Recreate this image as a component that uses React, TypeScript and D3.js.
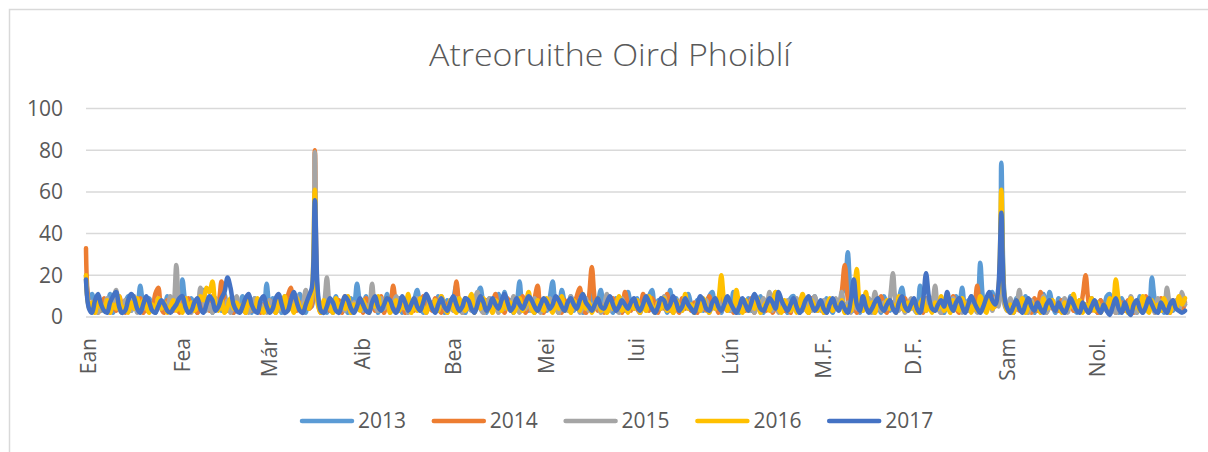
import React from "react";
import * as d3 from "d3";

const title = "Atreoruithe Oird Phoiblí";
const seriesNames = ["2013", "2014", "2015", "2016", "2017"];
const seriesColors = ["#5B9BD5", "#ED7D31", "#A5A5A5", "#FFC000", "#4472C4"];
const monthLabels = ["Ean", "Fea", "Már", "Aib", "Bea", "Mei", "Iui", "Lún", "M.F.", "D.F.", "Sam", "Nol."];
const monthStartDays = [0, 31, 60, 91, 121, 152, 182, 213, 244, 274, 305, 335];
const yTicks = [0, 20, 40, 60, 80, 100];

const s2013 = [
  20,9,11,4,10,3,8,5,11,2, 6,9,4,7,10,3,8,5,15,6, 3,9,5,2,8,6,3,10,4,7, 5,
  4,18,7,3,9,5,2,8,13,4, 6,2,9,5,3,11,4,7,2,8, 5,10,3,6,2,9,4,7,3,
  16,5,9,3,7,2,10,4,8,3, 6,11,4,2,8,5,45,9,3,6, 2,8,4,10,3,7,5,2,9,6, 16,
  7,4,10,3,6,9,2,8,5,11, 3,7,4,9,2,6,10,3,8,13, 5,2,9,4,7,3,10,6,2,8,
  5,9,15,4,7,2,8,5,3,10, 14,6,2,9,4,7,11,3,12,5, 8,2,6,17,4,9,3,7,2,10, 5,
  6,3,9,17,5,2,13,7,4,10, 3,8,5,2,9,6,11,4,7,13, 3,8,5,2,9,4,7,3,12,6,
  4,9,2,7,5,10,13,3,8,4, 6,2,13,5,9,3,7,4,11,6, 2,8,5,3,7,10,12,4,6,2, 9,
  5,3,12,6,2,8,4,9,3,7, 5,10,2,6,4,8,12,3,7,5, 2,9,10,4,6,3,8,2,7,10, 4,
  6,3,9,5,2,8,4,11,14,31, 10,3,7,2,9,5,3,8,4,6, 2,10,5,3,7,4,9,14,6,3,
  8,4,2,15,6,3,9,5,11,4, 7,2,8,5,3,10,6,14,4,8, 3,9,5,26,8,4,10,12,6,9, 74,
  12,4,7,2,9,5,3,10,4,6, 2,8,5,11,3,12,6,2,9,4, 7,3,10,5,2,8,4,6,3,9,
  5,2,8,4,10,11,3,7,2,9, 5,3,8,6,2,10,4,7,3,19, 8,4,6,2,9,5,3,7,4,10, 6,
];

const s2014 = [
  33,6,3,8,2,5,9,4,2,7, 3,10,5,2,8,4,6,3,9,2, 5,7,3,11,14,4,2,8,5,3, 6,
  2,7,4,9,3,5,2,8,4,6, 3,10,5,7,17,9,3,6,2,8, 4,5,2,9,3,7,4,2,6,
  3,8,5,2,9,4,6,10,14,5, 3,7,2,12,4,6,80,8,2,5, 9,3,6,4,8,2,10,5,3,7, 4,
  6,2,9,4,7,3,5,10,2,8, 4,15,6,3,9,2,5,7,3,8, 4,10,2,6,3,9,5,2,7,4,
  8,3,17,6,2,9,4,7,3,10, 5,2,8,4,6,11,3,7,2,9, 5,3,8,4,10,2,6,3,9,15, 4,
  2,7,5,3,9,4,2,8,5,3, 6,10,14,4,2,9,24,8,3,6, 2,7,4,9,3,5,2,12,6,3,
  8,4,2,11,5,3,9,6,2,7, 4,11,3,8,5,2,9,4,6,3, 7,2,8,5,3,10,4,6,2,9, 5,
  3,7,2,6,4,8,3,5,9,2, 6,4,8,3,7,2,5,9,4,3, 6,2,8,5,3,7,4,2,9,5, 3,
  7,2,5,8,3,6,4,12,25,9, 3,6,2,8,4,5,3,7,2,6, 10,4,2,8,5,3,7,4,9,3,
  5,8,3,6,2,9,4,7,3,5, 2,8,6,3,10,4,2,7,5,3, 9,6,15,4,8,3,6,10,5,12, 35,
  9,4,2,7,5,3,8,4,6,2, 9,3,12,5,2,7,4,6,3,8, 2,5,9,3,6,4,10,20,7,3,
  5,2,8,4,6,3,9,2,5,7, 3,8,4,2,6,5,3,10,4,7, 2,6,9,3,5,2,8,4,6,3, 7,
];

const s2015 = [
  18,5,3,8,2,6,4,9,3,7, 13,4,2,8,5,3,10,2,6,4, 8,3,5,2,9,4,7,3,10,6, 25,
  6,3,9,4,2,7,5,14,8,3, 6,2,9,4,5,3,8,2,6,10, 4,3,7,2,5,9,3,6,4,
  2,8,4,6,3,9,2,5,7,3, 10,4,6,13,5,8,79,10,3,6, 19,5,2,8,4,6,3,9,2,7, 4,
  8,3,6,2,16,5,3,9,4,7, 2,6,10,3,5,8,2,6,4,9, 3,5,2,7,4,8,3,10,5,2,
  6,3,9,4,2,8,5,3,7,12, 4,2,6,9,3,5,2,8,4,7, 3,10,5,2,6,4,8,3,9,5, 2,
  7,4,9,3,5,2,8,6,3,10, 4,7,2,5,9,3,6,4,8,2, 5,11,3,7,4,2,9,5,3,6,
  4,8,2,6,3,9,5,2,7,4, 10,3,6,2,8,5,3,9,4,6, 2,7,3,5,8,2,6,4,9,3, 5,
  7,3,6,2,9,4,5,3,8,2, 6,4,9,5,12,3,7,2,6,4, 8,3,5,9,2,6,4,7,3,10, 5,
  3,8,2,6,4,9,5,12,3,7, 2,6,4,8,3,5,9,2,12,6, 3,7,4,9,21,6,3,8,2,5,
  9,4,2,7,5,3,10,6,15,4, 2,8,5,3,9,4,6,2,7,3, 10,5,2,8,4,6,11,3,9,5, 30,
  6,3,9,2,5,13,4,7,2,8, 3,6,4,10,2,5,8,3,6,4, 9,2,7,5,3,8,4,6,2,9,
  4,7,2,6,3,9,5,2,8,4, 6,3,10,5,2,7,4,8,3,6, 2,9,5,3,14,6,4,8,3,12, 6,
];

const s2016 = [
  20,4,7,2,9,5,3,8,2,6, 4,10,3,5,2,7,4,9,3,8, 5,2,6,3,9,4,7,2,5,8, 3,
  6,2,9,4,7,3,5,10,8,14,12, 17,6,3,8,2,5,9,4,7, 3,6,2,8,5,3,9,4,2,
  7,3,5,2,8,4,10,3,6,2, 9,5,3,7,4,11,61,6,2,8, 4,5,2,9,3,7,4,10,2,6, 5,
  3,8,4,2,7,5,10,3,6,9, 2,5,8,3,6,4,11,2,7,3, 9,5,2,6,4,8,3,10,5,2,
  8,4,2,9,5,3,7,11,2,6, 4,9,3,5,2,8,6,3,10,4, 7,2,5,9,3,6,12,4,2,8, 5,
  3,9,5,2,7,4,10,3,6,2, 8,5,3,11,4,7,2,6,9,3, 5,2,8,4,6,10,3,5,2,7,
  4,8,2,6,3,10,5,2,7,4, 9,3,6,2,8,5,3,11,4,6, 2,7,3,9,5,2,6,4,8,20, 7,
  3,6,4,13,5,2,8,3,6,4, 9,2,5,7,3,6,12,4,2,8, 5,3,7,2,6,11,4,2,8,5, 3,
  7,2,5,9,3,6,4,8,2,5, 3,10,23,6,3,12,4,7,2,9, 5,3,8,4,6,2,10,5,3,7,
  4,8,2,6,9,3,5,2,7,4, 10,3,6,2,8,5,3,9,4,7, 2,6,3,10,5,2,8,4,6,12, 61,
  10,3,6,2,8,4,9,2,5,7, 3,6,2,9,4,5,8,3,6,2, 7,4,5,11,3,8,2,6,4,9,
  3,7,2,6,4,9,5,18,8,3, 6,2,9,4,7,3,10,5,2,8, 4,6,3,9,5,2,7,4,10,6, 9,
];

const s2017 = [
  18,4,2,8,11,6,3,2,7,10, 12,5,2,3,8,11,9,4,2,6, 10,7,3,2,5,8,6,3,2,4, 6,
  9,10,5,2,3,7,9,4,2,6, 10,8,3,5,9,12,19,14,6,3, 2,5,9,11,6,3,2,8,10,
  5,2,4,9,11,6,2,3,8,12, 7,3,2,6,10,14,56,12,3,2, 5,9,7,3,2,6,10,8,4,2, 5,
  9,6,3,2,7,10,5,3,6,9, 8,4,2,5,10,7,3,6,9,5, 3,7,11,8,4,2,6,9,5,3,
  7,10,6,3,5,9,8,4,2,6, 10,7,3,5,9,6,4,8,11,7, 3,5,9,6,4,7,10,8,5,3, 6,
  9,7,4,6,10,8,5,3,7,9, 6,4,8,11,7,5,3,6,9,5, 4,7,10,6,3,5,8,6,4,7,
  9,5,3,6,10,7,4,2,5,9, 8,4,6,10,7,3,5,9,6,4, 2,6,10,8,4,3,7,9,5,3, 6,
  10,7,4,2,5,9,6,3,7,11, 8,4,3,6,9,7,4,12,8,5, 3,6,9,5,2,4,8,10,6,3, 5,
  8,4,2,6,9,5,3,7,4,2, 8,18,6,3,10,5,2,4,7,9, 5,3,6,8,4,2,7,10,5,3,
  6,9,4,2,8,21,9,4,3,6, 8,5,12,6,3,7,9,5,2,6, 10,7,4,2,5,9,12,8,6,14, 50,
  10,4,2,5,8,4,2,6,9,5, 3,7,4,2,6,8,5,3,7,4, 2,5,9,6,3,2,7,4,2,5,
  8,4,2,6,3,1,5,9,4,2, 7,3,1,6,8,4,2,5,9,6, 3,2,7,4,2,6,8,4,3,2, 3,
];

const allSeries = [s2013, s2014, s2015, s2016, s2017];

const W = 1208;
const H = 452;
const font = "'Open Sans', 'Noto Sans', sans-serif";
const textColor = "#595959";
const gridColor = "#d9d9d9";

export default function App() {
  const x = d3.scaleLinear().domain([0, 365]).range([86, 1185]);
  const y = d3.scaleLinear().domain([0, 100]).range([317, 108.5]);
  const line = d3
    .line<number>()
    .x((_, i) => x(i))
    .y((d) => y(d))
    .curve(d3.curveCatmullRom.alpha(0.5));

  return (
    <svg
      width={W}
      height={H}
      style={{ position: "absolute", left: 0, top: 0, background: "#fff" }}
      fontFamily={font}
    >
      <rect x={0} y={0} width={W} height={H} fill="#fff" />
      {/* chart frame */}
      <path d={`M9.5,${H} V9.5 H${W}`} fill="none" stroke={gridColor} strokeWidth={1.5} />

      <text
        x={610}
        y={66}
        textAnchor="middle"
        fontSize={31}
        fontWeight={300}
        fill={textColor}
        textLength={362}
        lengthAdjust="spacingAndGlyphs"
      >
        {title}
      </text>

      {yTicks.map((t) => (
        <g key={t}>
          <line x1={86} x2={1186} y1={y(t)} y2={y(t)} stroke={gridColor} strokeWidth={1.5} />
          <text x={63} y={y(t)} dy="0.35em" textAnchor="end" fontSize={21} fill={textColor}>
            {t}
          </text>
        </g>
      ))}

      {monthLabels.map((m, i) => (
        <text
          key={m}
          transform={`translate(${x(monthStartDays[i]) + 3},338) rotate(-90)`}
          textAnchor="end"
          dy="0.35em"
          fontSize={21}
          fill={textColor}
        >
          {m}
        </text>
      ))}

      {allSeries.map((s, i) => (
        <path
          key={seriesNames[i]}
          d={line(s) || ""}
          fill="none"
          stroke={seriesColors[i]}
          strokeWidth={4.5}
          strokeLinejoin="round"
          strokeLinecap="round"
        />
      ))}

      {seriesNames.map((n, i) => {
        const lx = 300 + i * 131.8;
        return (
          <g key={n}>
            <line
              x1={lx + 2}
              x2={lx + 52}
              y1={421}
              y2={421}
              stroke={seriesColors[i]}
              strokeWidth={4.5}
              strokeLinecap="round"
            />
            <text x={lx + 58} y={428} fontSize={21} fill={textColor}>
              {n}
            </text>
          </g>
        );
      })}
    </svg>
  );
}
